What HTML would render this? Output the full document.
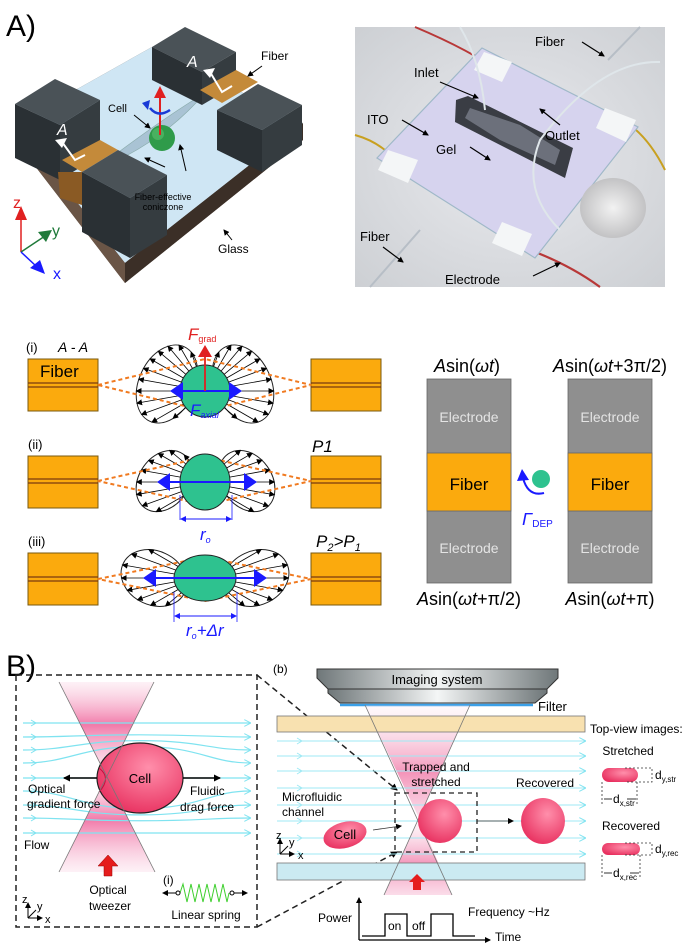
<!DOCTYPE html>
<html><head><meta charset="utf-8"><style>
html,body{margin:0;padding:0;background:#fff;}
svg{display:block;font-family:"Liberation Sans",sans-serif;}
</style></head><body>
<svg id="s" width="687" height="945" viewBox="0 0 687 945" xmlns="http://www.w3.org/2000/svg">
<defs>
<marker id="ah" markerWidth="6" markerHeight="6" refX="5" refY="3" orient="auto" markerUnits="userSpaceOnUse"><path d="M0,0 L6,3 L0,6 Z" fill="#000"/></marker>
<marker id="ahc" markerWidth="7" markerHeight="7" refX="6" refY="3.5" orient="auto" markerUnits="userSpaceOnUse"><path d="M0,0 L7,3.5 L0,7" fill="none" stroke="#7fe3f0" stroke-width="1"/></marker>
<marker id="ahb" markerWidth="7" markerHeight="7" refX="6" refY="3.5" orient="auto" markerUnits="userSpaceOnUse"><path d="M0,0 L7,3.5 L0,7 Z" fill="#000"/></marker>
<marker id="ahblue" markerWidth="6" markerHeight="6" refX="5" refY="3" orient="auto-start-reverse" markerUnits="userSpaceOnUse"><path d="M0,0 L6,3 L0,6 Z" fill="#1a1aff"/></marker>
<linearGradient id="beamL" x1="0" y1="0" x2="0" y2="1"><stop offset="0" stop-color="#f7b9d3" stop-opacity="0.2"/><stop offset="0.45" stop-color="#f06ca0" stop-opacity="0.9"/><stop offset="1" stop-color="#f7b9d3" stop-opacity="0.2"/></linearGradient>
<linearGradient id="beamR" x1="0" y1="0" x2="0" y2="1"><stop offset="0" stop-color="#fbe1ec" stop-opacity="0.2"/><stop offset="0.6" stop-color="#f289b2" stop-opacity="0.9"/><stop offset="1" stop-color="#f7b9d3" stop-opacity="0.5"/></linearGradient>
<radialGradient id="cellG" cx="0.6" cy="0.35" r="0.7"><stop offset="0" stop-color="#ff8fab"/><stop offset="1" stop-color="#e8305f"/></radialGradient>
<linearGradient id="imgG" x1="0" y1="0" x2="1" y2="0"><stop offset="0" stop-color="#6f7779"/><stop offset="0.5" stop-color="#f4f6f6"/><stop offset="1" stop-color="#6f7779"/></linearGradient>
<radialGradient id="photoBg" cx="0.5" cy="0.5" r="0.8"><stop offset="0" stop-color="#e9eaee"/><stop offset="1" stop-color="#c9ccd0"/></radialGradient>
<radialGradient id="coinG" cx="0.5" cy="0.5" r="0.6"><stop offset="0" stop-color="#f2f2f2"/><stop offset="1" stop-color="#b9b9bb"/></radialGradient>
</defs>

<!-- ===== A) ===== -->
<text x="6" y="36" font-size="30">A)</text>

<!-- 3D device -->
<polygon points="15,124 152,47 303,123 303,140 125,283 15,140" fill="#4e3f35"/>
<polygon points="15,124 152,47 303,123 125,263" fill="#cfe6f4"/>
<polygon points="15,124 125,263 125,283 15,140" fill="#6a5546"/>
<polygon points="125,263 303,123 303,140 125,283" fill="#3b2f27"/>
<!-- cone -->
<path d="M95,170 Q160,120 205,93 Q160,145 95,170 Z" fill="#a9c3d4" stroke="#8aa" stroke-width="0.6"/>
<!-- back-left block -->
<polygon points="15,104 55,79 100,100 60,125" fill="#4a5257"/>
<polygon points="15,104 60,125 60,180 15,158" fill="#2a3034"/>
<polygon points="60,125 100,100 100,155 60,180" fill="#353c40"/>
<!-- left fiber -->
<polygon points="62,160 100,140 118,150 82,172" fill="#c48a3a"/>
<polygon points="58,172 82,172 82,205 60,198" fill="#8a5a24"/>
<!-- front-left block -->
<polygon points="82,172 118,150 167,175 130,198" fill="#4a5257"/>
<polygon points="82,172 130,198 130,258 82,232" fill="#2a3034"/>
<polygon points="130,198 167,175 167,235 130,258" fill="#353c40"/>
<!-- back-right block -->
<polygon points="152,47 185,27 236,52 202,72" fill="#4a5257"/>
<polygon points="152,47 202,72 202,105 152,80" fill="#2a3034"/>
<polygon points="202,72 236,52 236,85 202,105" fill="#353c40"/>
<!-- right fiber -->
<polygon points="200,90 236,70 258,82 222,103" fill="#c48a3a"/>
<!-- front-right block -->
<polygon points="217,110 258,84 302,105 262,130" fill="#4a5257"/>
<polygon points="217,110 262,130 262,172 217,150" fill="#2a3034"/>
<polygon points="262,130 302,105 302,145 262,172" fill="#353c40"/>
<!-- A markers -->
<text x="57" y="135" font-size="16" font-style="italic" fill="#fff">A</text>
<polyline points="62,142 75,160 85,155" fill="none" stroke="#fff" stroke-width="2"/>
<path d="M55,140 L67,138 L62,148 Z" fill="#fff"/>
<text x="187" y="67" font-size="16" font-style="italic" fill="#fff">A</text>
<polyline points="210,72 222,92 232,86" fill="none" stroke="#fff" stroke-width="2"/>
<path d="M203,70 L215,68 L210,78 Z" fill="#fff"/>
<!-- cell -->
<circle cx="162" cy="138" r="13" fill="#2f9b4a"/>
<circle cx="158" cy="134" r="6" fill="#5cc070" opacity="0.6"/>
<line x1="160" y1="135" x2="160" y2="96" stroke="#e02020" stroke-width="2"/>
<path d="M154,98 L160,86 L166,98 Z" fill="#e02020"/>
<path d="M150,108 Q158,118 170,110" fill="none" stroke="#1a3bd6" stroke-width="2.5"/>
<path d="M142,103 L150,100 L148,110 Z" fill="#1a3bd6"/>
<text x="108" y="112" font-size="11">Cell</text>
<line x1="134" y1="115" x2="150" y2="128" stroke="#000" stroke-width="1" marker-end="url(#ah)"/>
<text x="163" y="200" font-size="9" text-anchor="middle">Fiber-effective</text>
<text x="163" y="210" font-size="9" text-anchor="middle">coniczone</text>
<line x1="165" y1="167" x2="145" y2="158" stroke="#000" stroke-width="1" marker-end="url(#ah)"/>
<line x1="186" y1="171" x2="180" y2="145" stroke="#000" stroke-width="1" marker-end="url(#ah)"/>
<text x="261" y="60" font-size="12">Fiber</text>
<line x1="262" y1="66" x2="248" y2="76" stroke="#000" stroke-width="1" marker-end="url(#ah)"/>
<text x="218" y="253" font-size="12">Glass</text>
<line x1="232" y1="240" x2="224" y2="230" stroke="#000" stroke-width="1" marker-end="url(#ah)"/>
<!-- axes -->
<line x1="21" y1="252" x2="21" y2="216" stroke="#e02020" stroke-width="1.5"/><path d="M15,220 L21,206 L27,220 Z" fill="#e02020"/>
<text x="13" y="208" font-size="16" fill="#e02020">z</text>
<line x1="21" y1="252" x2="45" y2="236" stroke="#1f7a3a" stroke-width="1.5"/><path d="M38,232 L52,230 L46,242 Z" fill="#1f7a3a"/>
<text x="52" y="236" font-size="16" fill="#1f7a3a">y</text>
<line x1="21" y1="252" x2="36" y2="266" stroke="#1a1aff" stroke-width="1.5"/><path d="M30,268 L45,274 L40,260 Z" fill="#1a1aff"/>
<text x="53" y="279" font-size="16" fill="#1a1aff">x</text>

<!-- photo -->
<rect x="355" y="27" width="310" height="260" fill="url(#photoBg)"/>
<path d="M415,27 Q470,50 505,75" stroke="#b83838" stroke-width="2" fill="none"/>
<path d="M355,135 Q380,142 395,160" stroke="#c8a020" stroke-width="2" fill="none"/>
<path d="M630,125 Q650,140 665,170" stroke="#c8a020" stroke-width="2" fill="none"/>
<path d="M530,250 Q570,265 600,287" stroke="#b83838" stroke-width="2.2" fill="none"/>
<path d="M370,287 L420,230" stroke="#b7bec6" stroke-width="2" fill="none"/>
<path d="M608,60 L640,27" stroke="#b7bec6" stroke-width="2" fill="none"/>
<polygon points="482,48 638,127 535,258 377,158" fill="#d6d3ee" stroke="#9fb8c8" stroke-width="1.2"/>
<polygon points="484,52 512,62 502,82 474,70" fill="#f4f6f7"/>
<polygon points="605,108 636,120 626,142 596,128" fill="#f4f6f7"/>
<polygon points="388,150 418,160 408,183 378,170" fill="#f4f6f7"/>
<polygon points="502,222 532,234 522,256 492,243" fill="#f4f6f7"/>
<polygon points="456,100 468,96 573,148 565,178 455,122" fill="#3a3d44"/>
<polygon points="470,108 520,125 560,150 555,165 500,140 465,118" fill="#8d93a0" opacity="0.6"/>
<path d="M460,27 Q480,60 485,110" stroke="#dfe6ea" stroke-width="2" fill="none"/>
<path d="M660,62 Q600,60 540,140 Q520,190 560,230" stroke="#dfe6ea" stroke-width="2" fill="none"/>
<ellipse cx="613" cy="208" rx="33" ry="30" fill="url(#coinG)"/>
<text x="535" y="46" font-size="13">Fiber</text>
<line x1="582" y1="42" x2="604" y2="56" stroke="#000" stroke-width="1.2" marker-end="url(#ah)"/>
<text x="414" y="77" font-size="13">Inlet</text>
<line x1="440" y1="82" x2="478" y2="98" stroke="#000" stroke-width="1.2" marker-end="url(#ah)"/>
<text x="367" y="124" font-size="13">ITO</text>
<line x1="402" y1="120" x2="428" y2="135" stroke="#000" stroke-width="1.2" marker-end="url(#ah)"/>
<text x="545" y="140" font-size="13">Outlet</text>
<line x1="560" y1="125" x2="540" y2="109" stroke="#000" stroke-width="1.2" marker-end="url(#ah)"/>
<text x="436" y="154" font-size="13">Gel</text>
<line x1="470" y1="147" x2="490" y2="160" stroke="#000" stroke-width="1.2" marker-end="url(#ah)"/>
<text x="360" y="241" font-size="13">Fiber</text>
<line x1="383" y1="247" x2="403" y2="262" stroke="#000" stroke-width="1.2" marker-end="url(#ah)"/>
<text x="445" y="284" font-size="13">Electrode</text>
<line x1="533" y1="276" x2="560" y2="263" stroke="#000" stroke-width="1.2" marker-end="url(#ah)"/>

<!-- ===== A) middle ===== -->
<g id="mid"></g>
<text x="26" y="352" font-size="13">(i)</text>
<text x="58" y="352" font-size="14" font-style="italic">A - A</text>
<text x="40" y="377" font-size="17">Fiber</text>
<text x="28" y="449" font-size="13">(ii)</text>
<text x="28" y="546" font-size="13">(iii)</text>
<text x="312" y="452" font-size="17" font-style="italic">P1</text>
<text x="316" y="547" font-size="17" font-style="italic">P<tspan font-size="11" dy="4">2</tspan><tspan dy="-4">&gt;P</tspan><tspan font-size="11" dy="4">1</tspan></text>
<text x="188" y="340" font-size="17" font-style="italic" fill="#e02020">F<tspan font-size="9" font-style="normal" dy="2">grad</tspan></text>
<text x="190" y="416" font-size="17" font-style="italic" fill="#1a1aff">F<tspan font-size="9" dy="2">axial</tspan></text>
<text x="200" y="540" font-size="17" font-style="italic" fill="#1a1aff">r<tspan font-size="9" dy="3">o</tspan></text>
<text x="186" y="636" font-size="17" font-style="italic" fill="#1a1aff">r<tspan font-size="9" dy="3">o</tspan><tspan dy="-3">+Δr</tspan></text>

<!-- right electrodes -->
<rect x="427" y="379" width="84" height="204" fill="#8f8f8f" stroke="#666" stroke-width="0.8"/>
<rect x="427" y="453" width="84" height="58" fill="#fbaa0d" stroke="#666" stroke-width="0.8"/>
<rect x="568" y="379" width="84" height="204" fill="#8f8f8f" stroke="#666" stroke-width="0.8"/>
<rect x="568" y="453" width="84" height="58" fill="#fbaa0d" stroke="#666" stroke-width="0.8"/>
<g font-size="14" fill="#e4e4e4" text-anchor="middle">
<text x="469" y="422">Electrode</text><text x="469" y="553">Electrode</text>
<text x="610" y="422">Electrode</text><text x="610" y="553">Electrode</text>
</g>
<text x="469" y="490" font-size="17" text-anchor="middle">Fiber</text>
<text x="610" y="490" font-size="17" text-anchor="middle">Fiber</text>
<g font-size="18" text-anchor="middle">
<text x="467" y="372"><tspan font-style="italic">A</tspan>sin(<tspan font-style="italic">ωt</tspan>)</text>
<text x="610" y="372"><tspan font-style="italic">A</tspan>sin(<tspan font-style="italic">ωt</tspan>+3π/2)</text>
<text x="469" y="605"><tspan font-style="italic">A</tspan>sin(<tspan font-style="italic">ωt</tspan>+π/2)</text>
<text x="610" y="605"><tspan font-style="italic">A</tspan>sin(<tspan font-style="italic">ωt</tspan>+π)</text>
</g>
<circle cx="541" cy="479" r="9" fill="#2ec28f"/>
<path d="M544,493 Q528,497 523,478" fill="none" stroke="#1a1aff" stroke-width="2"/>
<path d="M517,481 L522,469 L529,480 Z" fill="#1a1aff"/>
<text x="522" y="525" font-size="18" font-style="italic" fill="#1a1aff">Γ<tspan font-size="10" font-style="normal" dy="2">DEP</tspan></text>

<!-- ===== B) ===== -->
<text x="6" y="676" font-size="30">B)</text>
<!-- left box -->
<polygon points="59,682 154,682 106.5,777 " fill="url(#beamL)"/>
<polygon points="106.5,777 155,872 59,872" fill="url(#beamL)"/>
<g id="flowL"></g>
<ellipse cx="140" cy="778" rx="43" ry="35" fill="url(#cellG)" stroke="#222" stroke-width="1.2"/>
<path d="M99,768 Q112,778 99,792" fill="none" stroke="#c01040" stroke-width="1"/>
<line x1="59" y1="682" x2="155" y2="872" stroke="#777" stroke-width="0.8"/>
<line x1="154" y1="682" x2="59" y2="872" stroke="#777" stroke-width="0.8"/>
<text x="140" y="783" font-size="13" text-anchor="middle">Cell</text>
<line x1="97" y1="778" x2="64" y2="778" stroke="#000" stroke-width="1.5" marker-end="url(#ahb)"/>
<line x1="183" y1="778" x2="220" y2="778" stroke="#000" stroke-width="1.5" marker-end="url(#ahb)"/>
<g font-size="12">
<text x="28" y="793">Optical</text><text x="27" y="808">gradient force</text>
<text x="190" y="795">Fluidic</text><text x="180" y="811">drag force</text>
<text x="24" y="849">Flow</text>
<text x="108" y="894" text-anchor="middle">Optical</text><text x="110" y="910" text-anchor="middle">tweezer</text>
<text x="163" y="884">(i)</text>
<text x="206" y="919" text-anchor="middle">Linear spring</text>
</g>
<path d="M104,876 L104,866 L98,866 L108,855 L118,866 L112,866 L112,876 Z" fill="#e51c1c" stroke="#900" stroke-width="0.5"/>
<polyline points="180,893 183,884 187,902 191,884 195,902 199,884 203,902 207,884 211,902 215,884 219,902 223,884 227,902 229,893" fill="none" stroke="#3ecf2e" stroke-width="1"/>
<circle cx="178" cy="893" r="2" fill="#fff" stroke="#000"/><circle cx="232" cy="893" r="2" fill="#fff" stroke="#000"/>
<line x1="176" y1="893" x2="163" y2="893" stroke="#000" marker-end="url(#ah)"/>
<line x1="234" y1="893" x2="247" y2="893" stroke="#000" marker-end="url(#ah)"/>
<g stroke="#000" stroke-width="1" fill="none"><line x1="28" y1="918" x2="28" y2="903" marker-end="url(#ah)"/><line x1="28" y1="918" x2="42" y2="918" marker-end="url(#ah)"/><line x1="28" y1="918" x2="36" y2="910"/></g>
<text x="22" y="903" font-size="11">z</text><text x="37" y="910" font-size="11">y</text><text x="45" y="923" font-size="11">x</text>
<rect x="16" y="675" width="241" height="252" fill="none" stroke="#222" stroke-width="1.5" stroke-dasharray="6,4"/>
<line x1="257" y1="675" x2="397" y2="790" stroke="#222" stroke-width="1.5" stroke-dasharray="6,4" marker-end="url(#ahb)"/>
<line x1="257" y1="927" x2="397" y2="852" stroke="#222" stroke-width="1.5" stroke-dasharray="6,4" marker-end="url(#ahb)"/>

<!-- right (b) -->
<text x="273" y="673" font-size="12">(b)</text>
<polygon points="317,669 558,669 558,678 547,689 328,689 317,678" fill="url(#imgG)" stroke="#333" stroke-width="1"/>
<polygon points="328,689 547,689 547,693 535,703 340,703 328,693" fill="url(#imgG)" stroke="#333" stroke-width="1"/>
<text x="437" y="684" font-size="13" text-anchor="middle">Imaging system</text>
<line x1="340" y1="705" x2="533" y2="705" stroke="#3aa0e8" stroke-width="2.5"/>
<text x="538" y="711" font-size="13">Filter</text>
<polygon points="365,705 470,705 419,818" fill="url(#beamR)"/>
<polygon points="419,818 452,895 384,895" fill="url(#beamR)"/>
<rect x="277" y="716" width="308" height="16" fill="#f8e1b0" stroke="#777" stroke-width="0.8"/>
<rect x="277" y="863" width="308" height="17" fill="#cbeaf2" stroke="#777" stroke-width="0.8"/>
<g id="flowR"></g>
<line x1="365" y1="705" x2="452" y2="895" stroke="#777" stroke-width="0.8"/>
<line x1="470" y1="705" x2="384" y2="895" stroke="#777" stroke-width="0.8"/>
<ellipse cx="440" cy="821" rx="22" ry="22" fill="url(#cellG)"/>
<ellipse cx="543" cy="821" rx="22" ry="23" fill="url(#cellG)"/>
<ellipse cx="345" cy="835" rx="22" ry="13" fill="url(#cellG)" transform="rotate(-15 345 835)"/>
<text x="345" y="839" font-size="13" text-anchor="middle">Cell</text>
<line x1="373" y1="830" x2="401" y2="826" stroke="#333" stroke-width="0.8" marker-end="url(#ah)"/>
<line x1="477" y1="821" x2="513" y2="821" stroke="#333" stroke-width="0.8" marker-end="url(#ah)"/>
<rect x="395" y="793" width="82" height="59" fill="none" stroke="#222" stroke-width="1.3" stroke-dasharray="5,4"/>
<path d="M413,890 L413,882 L409,882 L417,874 L425,882 L421,882 L421,890 Z" fill="#e51c1c"/>
<g font-size="12">
<text x="436" y="771" text-anchor="middle">Trapped and</text><text x="436" y="786" text-anchor="middle">stretched</text>
<text x="545" y="787" text-anchor="middle">Recovered</text>
<text x="282" y="801">Microfluidic</text><text x="282" y="816">channel</text>
<text x="590" y="733">Top-view images:</text>
<text x="628" y="755" text-anchor="middle">Stretched</text>
<text x="631" y="830" text-anchor="middle">Recovered</text>
<text x="318" y="922">Power</text>
<text x="468" y="916">Frequency ~Hz</text>
<text x="495" y="941">Time</text>
<text x="388" y="930">on</text><text x="412" y="930">off</text>
</g>
<g stroke="#000" stroke-width="1" fill="none"><line x1="280" y1="854" x2="280" y2="839" marker-end="url(#ah)"/><line x1="280" y1="854" x2="294" y2="854" marker-end="url(#ah)"/><line x1="280" y1="854" x2="288" y2="846"/></g>
<text x="276" y="839" font-size="11">z</text><text x="289" y="846" font-size="11">y</text><text x="298" y="859" font-size="11">x</text>
<g stroke="#000" stroke-width="1.3" fill="none">
<line x1="359" y1="940" x2="359" y2="898" marker-end="url(#ah)"/>
<line x1="359" y1="940" x2="490" y2="940" marker-end="url(#ah)"/>
<polyline points="362,936 385,936 385,914 407,914 407,936 431,936 431,914 453,914 453,936 475,936"/>
</g>
<!-- top view cells -->
<rect x="602" y="768" width="36" height="14" rx="7" fill="url(#cellG)"/>
<rect x="602" y="843" width="38" height="12" rx="6" fill="url(#cellG)"/>
<g stroke="#333" stroke-width="0.8" stroke-dasharray="2,2" fill="none">
<polyline points="625,768 652,768 652,782 625,782"/><line x1="602" y1="782" x2="602" y2="805"/><line x1="637" y1="782" x2="637" y2="805"/>
<polyline points="625,843 652,843 652,855 625,855"/><line x1="602" y1="855" x2="602" y2="878"/><line x1="640" y1="855" x2="640" y2="878"/>
</g>
<line x1="604" y1="799" x2="612" y2="799" stroke="#333"/><line x1="627" y1="799" x2="636" y2="799" stroke="#333"/>
<line x1="604" y1="873" x2="612" y2="873" stroke="#333"/><line x1="630" y1="873" x2="639" y2="873" stroke="#333"/>
<text x="655" y="779" font-size="12">d<tspan font-size="8" dy="3">y,str</tspan></text>
<text x="613" y="803" font-size="12">d<tspan font-size="8" dy="3">x,str</tspan></text>
<text x="655" y="853" font-size="12">d<tspan font-size="8" dy="3">y,rec</tspan></text>
<text x="613" y="877" font-size="12">d<tspan font-size="8" dy="3">x,rec</tspan></text>
</svg>
<script>
(function(){
var NS="http://www.w3.org/2000/svg";
function el(p,t,a){var e=document.createElementNS(NS,t);for(var k in a)e.setAttribute(k,a[k]);p.appendChild(e);return e;}
var mid=document.getElementById('mid');
// fiber blocks
var rows=[{y:359,cy:385},{y:456,cy:481},{y:553,cy:579}];
rows.forEach(function(r){
 [28,311].forEach(function(x){
  el(mid,'rect',{x:x,y:r.y,width:70,height:52,fill:'#fbaa0d',stroke:'#7a5a10','stroke-width':1});
  el(mid,'line',{x1:x,y1:r.cy-2,x2:x+70,y2:r.cy-2,stroke:'#7a3a10','stroke-width':1.2});
  el(mid,'line',{x1:x,y1:r.cy+2,x2:x+70,y2:r.cy+2,stroke:'#7a3a10','stroke-width':1.2});
 });
});
var cfg=[
 {cy:391,crx:25,cry:26,L:{x:167,y:384,rx:28,ry:41,rot:25},R:{x:243,y:384,rx:28,ry:41,rot:-25},ax:[170,242],dash:26},
 {cy:482,crx:25,cry:28,L:{x:164,y:481,rx:25,ry:33,rot:35},R:{x:247,y:481,rx:25,ry:33,rot:-35},ax:[157,257],dash:24},
 {cy:578,crx:31,cry:23,L:{x:154,y:578,rx:34,ry:27,rot:25},R:{x:256,y:578,rx:34,ry:27,rot:-25},ax:[143,267],dash:22}
];
cfg.forEach(function(c,i){
 var cx=205;
 [c.L,c.R].forEach(function(o){el(mid,'ellipse',{cx:o.x,cy:o.y,rx:o.rx,ry:o.ry,transform:'rotate('+o.rot+' '+o.x+' '+o.y+')',fill:'#fff',stroke:'#222','stroke-width':1});});
 // arrows
 [[c.L,110,250],[c.R,-70,70]].forEach(function(q){
  var o=q[0];
  for(var a=q[1];a<=q[2];a+=10){
   var t=a*Math.PI/180,dx=Math.cos(t),dy=-Math.sin(t);
   var sx=cx+c.crx*dx, sy=c.cy+c.cry*dy;
   // intersect ray from (sx,sy) with rotated ellipse o
   var r=-o.rot*Math.PI/180, cs=Math.cos(r), sn=Math.sin(r);
   var px=sx-o.x, py=sy-o.y;
   var X0=px*cs-py*sn, Y0=px*sn+py*cs, DX=dx*cs-dy*sn, DY=dx*sn+dy*cs;
   var A=DX*DX/(o.rx*o.rx)+DY*DY/(o.ry*o.ry), B=2*(X0*DX/(o.rx*o.rx)+Y0*DY/(o.ry*o.ry)), C=X0*X0/(o.rx*o.rx)+Y0*Y0/(o.ry*o.ry)-1;
   var D=B*B-4*A*C; if(D<0) continue;
   var s=(-B+Math.sqrt(D))/(2*A); if(s<6) continue;
   el(mid,'line',{x1:sx,y1:sy,x2:sx+dx*s,y2:sy+dy*s,stroke:'#000','stroke-width':0.8,'marker-end':'url(#ah)'});
  }
 });
 // dashed orange
 var cy=rows[i].cy;
 el(mid,'polygon',{points:'98,'+cy+' 205,'+(cy-c.dash)+' 311,'+cy+' 205,'+(cy+c.dash),fill:'none',stroke:'#f07a20','stroke-width':2,'stroke-dasharray':'4,3'});
 el(mid,'ellipse',{cx:cx,cy:c.cy,rx:c.crx,ry:c.cry,fill:'#2ec28f',stroke:'#222','stroke-width':1});
 el(mid,'line',{x1:c.ax[0]+12,y1:c.cy,x2:c.ax[1]-12,y2:c.cy,stroke:'#1a1aff','stroke-width':2});
 el(mid,'path',{d:'M'+c.ax[0]+','+c.cy+' l13,-9 l0,18 z',fill:'#1a1aff'});
 el(mid,'path',{d:'M'+c.ax[1]+','+c.cy+' l-13,-9 l0,18 z',fill:'#1a1aff'});
});
// Fgrad
el(mid,'line',{x1:205,y1:391,x2:205,y2:355,stroke:'#e02020','stroke-width':1.8});
el(mid,'path',{d:'M198,357 L205,345 L212,357 Z',fill:'#e02020'});
// dimension lines
[[180,232,495,520,519],[174,237,592,622,616]].forEach(function(d){
 el(mid,'line',{x1:d[0],y1:d[2],x2:d[0],y2:d[3],stroke:'#1a1aff','stroke-width':0.8});
 el(mid,'line',{x1:d[1],y1:d[2],x2:d[1],y2:d[3],stroke:'#1a1aff','stroke-width':0.8});
 el(mid,'line',{x1:d[0]+1,y1:d[4],x2:d[1]-1,y2:d[4],stroke:'#1a1aff','stroke-width':1,'marker-start':'url(#ahblue)','marker-end':'url(#ahblue)'});
});
// left flow lines
var fl=document.getElementById('flowL');
[723,737,750,763,778,791,805,818,833].forEach(function(y){
 var dy=y-778, k=Math.sign(dy)*Math.max(0,45-Math.abs(dy))*0.55;
 el(fl,'path',{d:'M23,'+y+' C70,'+y+' 80,'+(y+k)+' 140,'+(y+k)+' S210,'+y+' 250,'+y,fill:'none',stroke:'#7fe3f0','stroke-width':1.2,'marker-end':'url(#ahc)'});
 el(fl,'path',{d:'M31,'+(y-3)+' L36,'+y+' L31,'+(y+3),fill:'none',stroke:'#7fe3f0','stroke-width':1});
});
var fr=document.getElementById('flowR');
[741,756,771,788,805,821,838,854].forEach(function(y){
 el(fr,'line',{x1:277,y1:y,x2:585,y2:y,stroke:'#9fe9f4','stroke-width':1,'marker-end':'url(#ahc)'});
 el(fr,'path',{d:'M297,'+(y-3)+' L302,'+y+' L297,'+(y+3),fill:'none',stroke:'#9fe9f4','stroke-width':1});
});
})();
</script>
</body></html>
